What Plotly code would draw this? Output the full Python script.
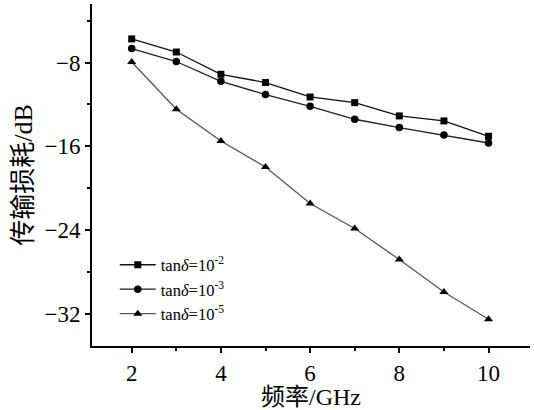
import plotly.graph_objects as go

# Transmission loss vs frequency for three loss tangents
freq_ghz = [2, 3, 4, 5, 6, 7, 8, 9, 10]
loss_tan_1e2 = [-5.74, -6.99, -9.12, -9.91, -11.29, -11.83, -13.10, -13.58, -15.05]
loss_tan_1e3 = [-6.66, -7.90, -9.79, -11.06, -12.18, -13.42, -14.21, -14.92, -15.69]
loss_tan_1e5 = [-7.95, -12.46, -15.50, -17.98, -21.48, -23.87, -26.83, -29.93, -32.54]

series_names = [
    "tan<i>δ</i>=10<sup>-2</sup>",
    "tan<i>δ</i>=10<sup>-3</sup>",
    "tan<i>δ</i>=10<sup>-5</sup>",
]
x_ticks = [2, 4, 6, 8, 10]
y_ticks = [-32, -24, -16, -8]

serif = "Liberation Serif, Times New Roman, Noto Sans CJK SC, serif"

fig = go.Figure()
styles = [
    (loss_tan_1e2, "square", 7, "#111111"),
    (loss_tan_1e3, "circle", 7.5, "#222222"),
    (loss_tan_1e5, "triangle-up", 8, "#555555"),
]
for (vals, sym, size, lc), name in zip(styles, series_names):
    fig.add_trace(go.Scatter(
        x=freq_ghz, y=vals, name=name, mode="lines+markers",
        line=dict(color=lc, width=1.3),
        marker=dict(symbol=sym, size=size, color="black"),
    ))

fig.update_layout(
    width=534, height=410,
    margin=dict(l=92, r=4, t=4, b=64),
    paper_bgcolor="white", plot_bgcolor="white",
    font=dict(family=serif, color="black"),
    showlegend=True,
    legend=dict(
        x=0.052, y=0.288, xanchor="left", yanchor="top",
        bgcolor="rgba(0,0,0,0)", font=dict(size=16.5, family=serif),
        tracegroupgap=0, itemwidth=36,
    ),
)
fig.update_xaxes(
    range=[1.11, 10.93], tickvals=x_ticks,
    showline=True, linecolor="black", linewidth=2,
    ticks="outside", ticklen=5, tickwidth=1.5, tickcolor="black",
    minor=dict(dtick=1, tick0=1, ticks="outside", ticklen=3, tickcolor="black"),
    showgrid=False, zeroline=False,
    tickfont=dict(size=23, family=serif),
    title=dict(text="频率/GHz", font=dict(size=24, family=serif), standoff=2),
)
fig.update_yaxes(
    range=[-35.1, -2.4], tickvals=y_ticks,
    showline=True, linecolor="black", linewidth=2,
    ticks="outside", ticklen=5, tickwidth=1.5, tickcolor="black",
    minor=dict(dtick=4, tick0=0, ticks="outside", ticklen=3, tickcolor="black"),
    showgrid=False, zeroline=False,
    tickfont=dict(size=23, family=serif),
    title=dict(text="传输损耗/dB", font=dict(size=26, family=serif), standoff=4),
)

fig.write_html("out.html")
